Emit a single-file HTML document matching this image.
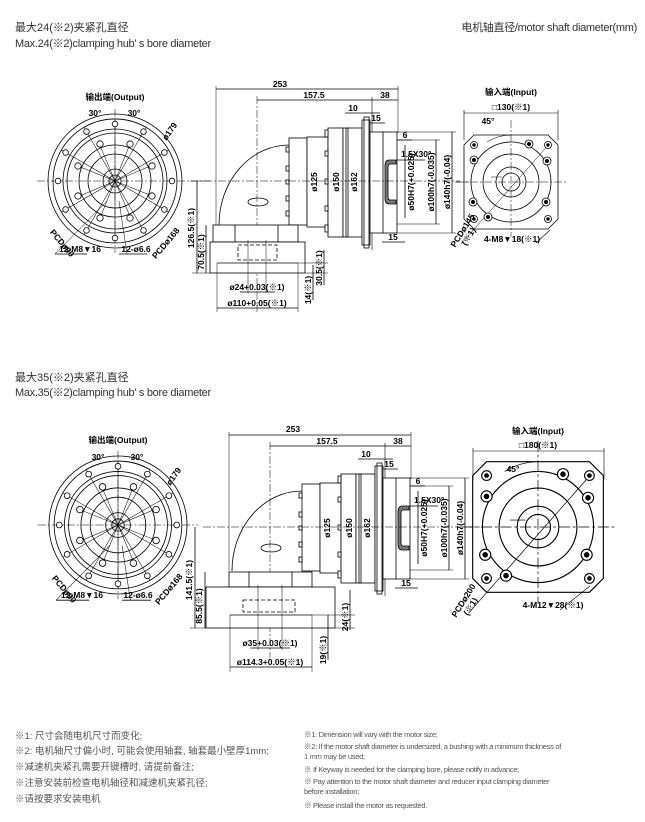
<!DOCTYPE html>
<html><head><meta charset="utf-8">
<style>
html,body{margin:0;padding:0;background:#fff;}
body{width:645px;height:822px;position:relative;overflow:hidden;font-family:"Liberation Sans","Noto Sans CJK SC",sans-serif;}
.t{position:absolute;white-space:nowrap;color:#333;}
svg{position:absolute;left:0;top:0;}
svg text{font-family:"Liberation Sans Narrow","Liberation Sans","Noto Sans CJK SC",sans-serif;font-weight:bold;font-size:8.5px;fill:#000;}
</style></head><body>
<div class="t" style="left:15px;top:19px;font-size:11px;">最大24(※2)夹紧孔直径</div>
<div class="t" style="left:15px;top:35px;font-size:11px;letter-spacing:-0.3px;">Max.24(※2)clamping hub' s bore diameter</div>
<div class="t" style="right:8px;top:19px;font-size:11px;letter-spacing:-0.3px;">电机轴直径/motor shaft diameter(mm)</div>
<div class="t" style="left:15px;top:369px;font-size:11px;">最大35(※2)夹紧孔直径</div>
<div class="t" style="left:15px;top:384px;font-size:11px;letter-spacing:-0.3px;">Max.35(※2)clamping hub' s bore diameter</div>

<div class="t" style="left:15px;top:728px;font-size:9.5px;color:#555;">※1: 尺寸会随电机尺寸而变化;</div>
<div class="t" style="left:15px;top:743px;font-size:9.5px;color:#555;">※2: 电机轴尺寸偏小时, 可能会使用轴套, 轴套最小壁厚1mm;</div>
<div class="t" style="left:15px;top:759px;font-size:9.5px;color:#555;">※减速机夹紧孔需要开键槽时, 请提前备注;</div>
<div class="t" style="left:15px;top:775px;font-size:9.5px;color:#555;">※注意安装前检查电机轴径和减速机夹紧孔径;</div>
<div class="t" style="left:15px;top:791px;font-size:9.5px;color:#555;">※请按要求安装电机</div>

<div class="t" style="left:304px;top:729px;font-size:7.5px;color:#555;letter-spacing:-0.3px;">※1: Dimension will vary with the motor size;</div>
<div class="t" style="left:304px;top:741px;font-size:7.5px;color:#555;letter-spacing:-0.3px;">※2: If the motor shaft diameter is undersized, a bushing with a minimum thickness of</div>
<div class="t" style="left:304px;top:752px;font-size:7.5px;color:#555;letter-spacing:-0.3px;">1 mm may be used;</div>
<div class="t" style="left:304px;top:764px;font-size:7.5px;color:#555;letter-spacing:-0.3px;">※ If Keyway is needed for the clamping bore, please notify in advance;</div>
<div class="t" style="left:304px;top:776px;font-size:7.5px;color:#555;letter-spacing:-0.3px;">※ Pay attention to the motor shaft diameter and reducer input clamping diameter</div>
<div class="t" style="left:304px;top:787px;font-size:7.5px;color:#555;letter-spacing:-0.3px;">before installation;</div>
<div class="t" style="left:304px;top:800px;font-size:7.5px;color:#555;letter-spacing:-0.3px;">※ Please install the motor as requested.</div>

<svg width="645" height="822" viewBox="0 0 645 822">
<defs>
 <g id="outC" fill="none" stroke="#000" stroke-width="0.8">
  <circle r="67"/><circle r="62"/><circle r="52"/><circle r="48"/><circle r="36"/><circle r="27"/><circle r="12"/><circle r="6"/>
  <g stroke-width="0.5">
   <line x1="0" y1="0" x2="0" y2="-62" transform="rotate(0)"/><line x1="0" y1="0" x2="0" y2="-62" transform="rotate(30)"/>
   <line x1="0" y1="0" x2="0" y2="-62" transform="rotate(60)"/><line x1="0" y1="0" x2="0" y2="-62" transform="rotate(120)"/>
   <line x1="0" y1="0" x2="0" y2="-62" transform="rotate(150)"/><line x1="0" y1="0" x2="0" y2="-62" transform="rotate(180)"/>
   <line x1="0" y1="0" x2="0" y2="-62" transform="rotate(210)"/><line x1="0" y1="0" x2="0" y2="-62" transform="rotate(240)"/>
   <line x1="0" y1="0" x2="0" y2="-62" transform="rotate(300)"/><line x1="0" y1="0" x2="0" y2="-62" transform="rotate(330)"/>
   <line x1="0" y1="0" x2="0" y2="-40" transform="rotate(22)"/><line x1="0" y1="0" x2="0" y2="-40" transform="rotate(67)"/>
   <line x1="0" y1="0" x2="0" y2="-40" transform="rotate(112)"/><line x1="0" y1="0" x2="0" y2="-40" transform="rotate(157)"/>
   <line x1="0" y1="0" x2="0" y2="-40" transform="rotate(202)"/><line x1="0" y1="0" x2="0" y2="-40" transform="rotate(247)"/>
   <line x1="0" y1="0" x2="0" y2="-40" transform="rotate(292)"/><line x1="0" y1="0" x2="0" y2="-40" transform="rotate(337)"/>
   <line x1="-78" y1="0" x2="78" y2="0" stroke-dasharray="8 2 2 2"/>
   <line x1="0" y1="-72" x2="0" y2="72" stroke-dasharray="8 2 2 2"/>
   <path d="M-31,-54 A62,62 0 0 1 31,-54"/>
  </g>
  <g fill="#fff">
   <circle cx="0" cy="-57" r="2.8"/><circle cx="28.5" cy="-49.4" r="2.8"/><circle cx="49.4" cy="-28.5" r="2.8"/><circle cx="57" cy="0" r="2.8"/>
   <circle cx="49.4" cy="28.5" r="2.8"/><circle cx="28.5" cy="49.4" r="2.8"/><circle cx="0" cy="57" r="2.8"/><circle cx="-28.5" cy="49.4" r="2.8"/>
   <circle cx="-49.4" cy="28.5" r="2.8"/><circle cx="-57" cy="0" r="2.8"/><circle cx="-49.4" cy="-28.5" r="2.8"/><circle cx="-28.5" cy="-49.4" r="2.8"/>
   <circle cx="15" cy="-37" r="3.2"/><circle cx="37" cy="-15" r="3.2"/><circle cx="37" cy="15" r="3.2"/><circle cx="15" cy="37" r="3.2"/>
   <circle cx="-15" cy="37" r="3.2"/><circle cx="-37" cy="15" r="3.2"/><circle cx="-37" cy="-15" r="3.2"/><circle cx="-15" cy="-37" r="3.2"/>
  </g>
  <line x1="-60" y1="73" x2="-8" y2="20" stroke-width="0.5"/><line x1="12" y1="73" x2="4" y2="20" stroke-width="0.5"/>
  <line x1="-60" y1="73" x2="-28" y2="73"/><line x1="4" y1="73" x2="32" y2="73"/>
 </g>

 <g id="side" fill="none" stroke="#000" stroke-width="0.8">
  <line x1="216" y1="89" x2="398" y2="89"/>
  <line x1="257" y1="100" x2="398" y2="100"/>
  <line x1="216" y1="86" x2="216" y2="225" stroke-width="0.5"/>
  <line x1="398" y1="86" x2="398" y2="133" stroke-width="0.5"/>
  <line x1="372" y1="97" x2="372" y2="250" stroke-width="0.6"/>
  <line x1="345" y1="113" x2="380" y2="113"/>
  <line x1="367" y1="123" x2="385" y2="123"/>
  <line x1="380" y1="140" x2="412" y2="140"/>
  <line x1="388" y1="160" x2="425" y2="160"/>
  <line x1="382" y1="242" x2="405" y2="242"/>
  <rect x="289" y="138" width="18" height="87" fill="#fff"/>
  <rect x="307" y="137" width="21" height="90" fill="#fff"/>
  <rect x="328" y="128" width="15" height="109" fill="#fff"/>
  <rect x="343" y="128" width="19" height="109" fill="#fff"/>
  <rect x="346" y="128" width="2" height="109"/>
  <rect x="362" y="120" width="8" height="125" fill="#fff"/>
  <rect x="364" y="117" width="5" height="131"/>
  <rect x="370" y="132" width="27" height="101" fill="#fff"/>
  <line x1="383" y1="132" x2="383" y2="233"/>
  <g fill="#fff">
   <rect x="286" y="147" width="3" height="5"/><rect x="286" y="166" width="3" height="5"/><rect x="286" y="180" width="3" height="4"/>
   <rect x="286" y="196" width="3" height="5"/><rect x="286" y="211" width="3" height="5"/>
   <rect x="325" y="130" width="3" height="7"/><rect x="325" y="151" width="3" height="5"/><rect x="325" y="179" width="3" height="5"/>
   <rect x="325" y="206" width="3" height="5"/><rect x="325" y="225" width="3" height="7"/>
  </g>
  <path d="M396,160 H389 Q385,160 385,166 V198 Q385,204 389,204 H396 V200 H390 Q388,200 388,196 V168 Q388,164 390,164 H396Z" fill="#777"/>
  <path d="M289,145 A70,80 0 0 0 219,225"/>
  <ellipse cx="258" cy="202" rx="10" ry="4"/>
  <line x1="405" y1="145" x2="405" y2="218"/>
  <line x1="436" y1="140" x2="436" y2="224"/>
  <line x1="452" y1="132" x2="452" y2="233"/>
  <line x1="397" y1="132" x2="456" y2="132" stroke-width="0.5"/>
  <line x1="397" y1="233" x2="456" y2="233" stroke-width="0.5"/>
  <line x1="397" y1="140" x2="440" y2="140" stroke-width="0.5"/>
  <line x1="397" y1="224" x2="440" y2="224" stroke-width="0.5"/>
  <line x1="257" y1="96" x2="257" y2="312" stroke-width="0.5" stroke-dasharray="8 2 2 2"/>
  <line x1="190" y1="181" x2="460" y2="181" stroke-width="0.5" stroke-dasharray="8 2 2 2"/>
 </g>

 <g id="inp" fill="none" stroke="#000" stroke-width="0.8">
  <polygon points="-37,-47 37,-47 47,-37 47,37 37,47 -37,47 -47,37 -47,-37"/>
  <circle r="40"/><circle r="28"/><circle r="15"/><circle r="9"/>
  <line x1="-55" y1="0" x2="55" y2="0" stroke-width="0.5" stroke-dasharray="8 2 2 2"/>
  <line x1="0" y1="-62" x2="0" y2="55" stroke-width="0.5" stroke-dasharray="8 2 2 2"/>
  <line x1="-50" y1="62" x2="40" y2="-40" stroke-width="0.5"/>
  <line x1="-20" y1="-5" x2="-9" y2="-5" stroke-width="0.5"/>
  <g fill="#fff">
   <circle cx="-37" cy="-37" r="3.5"/><circle cx="37" cy="-37" r="3.5"/><circle cx="-37" cy="37" r="3.5"/><circle cx="37" cy="37" r="3.5"/>
   <circle cx="18" cy="-38" r="4"/><circle cx="36" cy="-21" r="4"/><circle cx="-37" cy="-22" r="4"/>
   <circle cx="-38" cy="20" r="4"/><circle cx="-23" cy="35" r="4"/><circle cx="35" cy="20" r="4"/>
  </g>
  <g fill="#000">
   <circle cx="-37" cy="-37" r="1.3"/><circle cx="37" cy="-37" r="1.3"/><circle cx="-37" cy="37" r="1.3"/><circle cx="37" cy="37" r="1.3"/>
   <circle cx="18" cy="-38" r="1.6"/><circle cx="36" cy="-21" r="1.6"/><circle cx="-37" cy="-22" r="1.6"/>
   <circle cx="-38" cy="20" r="1.6"/><circle cx="-23" cy="35" r="1.6"/><circle cx="35" cy="20" r="1.6"/>
  </g>
  <path d="M-24,-40 A47,47 0 0 1 0,-47" stroke-width="0.5"/>
 </g>
</defs>

<use href="#outC" transform="translate(115,181)"/>
<text x="115" y="100" text-anchor="middle">输出端(Output)</text>
<text x="95" y="116" text-anchor="middle">30°</text>
<text x="134" y="116" text-anchor="middle">30°</text>
<text transform="translate(172,133) rotate(-55)" text-anchor="middle">ø179</text>
<text transform="translate(60,245) rotate(50)" text-anchor="middle">PCDø90</text>
<text transform="translate(168,245) rotate(-50)" text-anchor="middle" font-size="8">PCDø168</text>
<text x="80" y="252" text-anchor="middle">12-M8▼16</text>
<text x="136" y="252" text-anchor="middle">12-ø6.6</text>

<use href="#side"/>
<g fill="none" stroke="#000" stroke-width="0.8">
 <rect x="213" y="225" width="85" height="17" fill="#fff"/>
 <line x1="235" y1="225" x2="235" y2="242"/><line x1="278" y1="225" x2="278" y2="242"/>
 <rect x="210" y="242" width="95" height="31" fill="#fff"/>
 <rect x="238" y="245" width="39" height="15" stroke-dasharray="4 2"/>
 <line x1="217" y1="263" x2="298" y2="263"/>
 <line x1="217" y1="263" x2="217" y2="312" stroke-width="0.5"/><line x1="298" y1="263" x2="298" y2="312" stroke-width="0.5"/>
 <line x1="248" y1="240" x2="248" y2="293" stroke-width="0.5"/><line x1="266" y1="240" x2="266" y2="293" stroke-width="0.5"/>
 <line x1="240" y1="292" x2="275" y2="292"/>
 <line x1="217" y1="308" x2="298" y2="308"/>
 <line x1="197" y1="181" x2="197" y2="273"/><line x1="206" y1="225" x2="206" y2="273"/>
 <line x1="192" y1="273" x2="210" y2="273" stroke-width="0.5"/><line x1="192" y1="181" x2="210" y2="181" stroke-width="0.5"/>
 <line x1="324" y1="250" x2="324" y2="285"/><line x1="313" y1="265" x2="313" y2="300"/>
 <line x1="298" y1="263" x2="328" y2="263" stroke-width="0.5"/><line x1="305" y1="273" x2="328" y2="273" stroke-width="0.5"/>
</g>
<text x="280" y="87" text-anchor="middle">253</text>
<text x="314" y="98" text-anchor="middle">157.5</text>
<text x="385" y="98" text-anchor="middle">38</text>
<text x="353" y="111" text-anchor="middle">10</text>
<text x="376" y="121" text-anchor="middle">15</text>
<text x="405" y="138" text-anchor="middle">6</text>
<text x="401" y="157">1.5X30°</text>
<text x="393" y="240" text-anchor="middle">15</text>
<text transform="translate(317,182) rotate(-90)" text-anchor="middle">ø125</text>
<text transform="translate(339,182) rotate(-90)" text-anchor="middle">ø150</text>
<text transform="translate(357,182) rotate(-90)" text-anchor="middle">ø162</text>
<text transform="translate(414,182) rotate(-90)" text-anchor="middle">ø50H7(+0.025)</text>
<text transform="translate(434,182) rotate(-90)" text-anchor="middle">ø100h7(-0.035)</text>
<text transform="translate(450,182) rotate(-90)" text-anchor="middle">ø140h7(-0.04)</text>
<text transform="translate(194,228) rotate(-90)" text-anchor="middle">126.5(※1)</text>
<text transform="translate(204,252) rotate(-90)" text-anchor="middle">70.5(※1)</text>
<text transform="translate(322,268) rotate(-90)" text-anchor="middle">30.5(※1)</text>
<text transform="translate(311,290) rotate(-90)" text-anchor="middle">14(※1)</text>
<text x="257" y="290" text-anchor="middle">ø24+0.03(※1)</text>
<text x="257" y="306" text-anchor="middle">ø110+0.05(※1)</text>

<use href="#inp" transform="translate(511,182)"/>
<g fill="none" stroke="#000" stroke-width="0.6">
 <line x1="464" y1="113" x2="558" y2="113"/><line x1="464" y1="110" x2="464" y2="140"/><line x1="558" y1="110" x2="558" y2="140"/>
 <line x1="455" y1="182" x2="470" y2="182" stroke-dasharray="6 2"/>
 <line x1="536" y1="243" x2="550" y2="230"/>
</g>
<text x="511" y="95" text-anchor="middle">输入端(Input)</text>
<text x="511" y="110" text-anchor="middle">□130(※1)</text>
<text x="488" y="124" text-anchor="middle">45°</text>
<text transform="translate(465,232) rotate(-58)" text-anchor="middle">PCDø145</text>
<text transform="translate(471,238) rotate(-58)" text-anchor="middle">(※1)</text>
<text x="512" y="242" text-anchor="middle">4-M8▼18(※1)</text>

<use href="#outC" transform="translate(118,525) scale(1.03)"/>
<text x="118" y="443" text-anchor="middle">输出端(Output)</text>
<text x="98" y="460" text-anchor="middle">30°</text>
<text x="137" y="460" text-anchor="middle">30°</text>
<text transform="translate(176,478) rotate(-55)" text-anchor="middle">ø179</text>
<text transform="translate(62,591) rotate(50)" text-anchor="middle">PCDø90</text>
<text transform="translate(171,591) rotate(-50)" text-anchor="middle" font-size="8">PCDø168</text>
<text x="82" y="598" text-anchor="middle">12-M8▼16</text>
<text x="138" y="598" text-anchor="middle">12-ø6.6</text>

<use href="#side" transform="translate(13,346)"/>
<g fill="none" stroke="#000" stroke-width="0.8">
 <rect x="229" y="572" width="83" height="15" fill="#fff"/>
 <line x1="249" y1="572" x2="249" y2="587"/><line x1="292" y1="572" x2="292" y2="587"/>
 <rect x="206" y="587" width="129" height="41" fill="#fff"/>
 <rect x="243" y="600" width="52" height="12" stroke-dasharray="4 2"/>
 <line x1="230" y1="615" x2="312" y2="615"/>
 <line x1="230" y1="615" x2="230" y2="672" stroke-width="0.5"/><line x1="312" y1="615" x2="312" y2="672" stroke-width="0.5"/>
 <line x1="258" y1="585" x2="258" y2="650" stroke-width="0.5"/><line x1="282" y1="585" x2="282" y2="650" stroke-width="0.5"/>
 <line x1="250" y1="648" x2="290" y2="648"/>
 <line x1="230" y1="667" x2="312" y2="667"/>
 <line x1="195" y1="527" x2="195" y2="628"/><line x1="205" y1="572" x2="205" y2="628"/>
 <line x1="190" y1="628" x2="206" y2="628" stroke-width="0.5"/>
 <line x1="350" y1="590" x2="350" y2="630"/><line x1="328" y1="615" x2="328" y2="660"/>
 <line x1="312" y1="615" x2="355" y2="615" stroke-width="0.5"/><line x1="335" y1="628" x2="355" y2="628" stroke-width="0.5"/>
</g>
<text x="293" y="432" text-anchor="middle">253</text>
<text x="327" y="444" text-anchor="middle">157.5</text>
<text x="398" y="444" text-anchor="middle">38</text>
<text x="366" y="457" text-anchor="middle">10</text>
<text x="389" y="467" text-anchor="middle">15</text>
<text x="418" y="484" text-anchor="middle">6</text>
<text x="414" y="503">1.5X30°</text>
<text x="406" y="586" text-anchor="middle">15</text>
<text transform="translate(330,528) rotate(-90)" text-anchor="middle">ø125</text>
<text transform="translate(352,528) rotate(-90)" text-anchor="middle">ø150</text>
<text transform="translate(370,528) rotate(-90)" text-anchor="middle">ø162</text>
<text transform="translate(427,528) rotate(-90)" text-anchor="middle">ø50H7(+0.025)</text>
<text transform="translate(447,528) rotate(-90)" text-anchor="middle">ø100h7(-0.035)</text>
<text transform="translate(463,528) rotate(-90)" text-anchor="middle">ø140h7(-0.04)</text>
<text transform="translate(192,580) rotate(-90)" text-anchor="middle">141.5(※1)</text>
<text transform="translate(202,606) rotate(-90)" text-anchor="middle">85.5(※1)</text>
<text transform="translate(348,617) rotate(-90)" text-anchor="middle">24(※1)</text>
<text transform="translate(326,650) rotate(-90)" text-anchor="middle">19(※1)</text>
<text x="270" y="646" text-anchor="middle">ø35+0.03(※1)</text>
<text x="270" y="665" text-anchor="middle">ø114.3+0.05(※1)</text>

<use href="#inp" transform="translate(538,527) scale(1.39)"/>
<g fill="none" stroke="#000" stroke-width="0.6">
 <line x1="473" y1="451" x2="604" y2="451"/><line x1="473" y1="448" x2="473" y2="480"/><line x1="604" y1="448" x2="604" y2="480"/>
 <line x1="470" y1="527" x2="480" y2="527" stroke-dasharray="6 2"/>
 <line x1="560" y1="610" x2="590" y2="586"/>
</g>
<text x="538" y="434" text-anchor="middle">输入端(Input)</text>
<text x="538" y="448" text-anchor="middle">□180(※1)</text>
<text x="513" y="472" text-anchor="middle">45°</text>
<text transform="translate(466,602) rotate(-58)" text-anchor="middle">PCDø200</text>
<text transform="translate(473,608) rotate(-58)" text-anchor="middle">(※1)</text>
<text x="553" y="608" text-anchor="middle">4-M12▼28(※1)</text>
</svg>
</body></html>
